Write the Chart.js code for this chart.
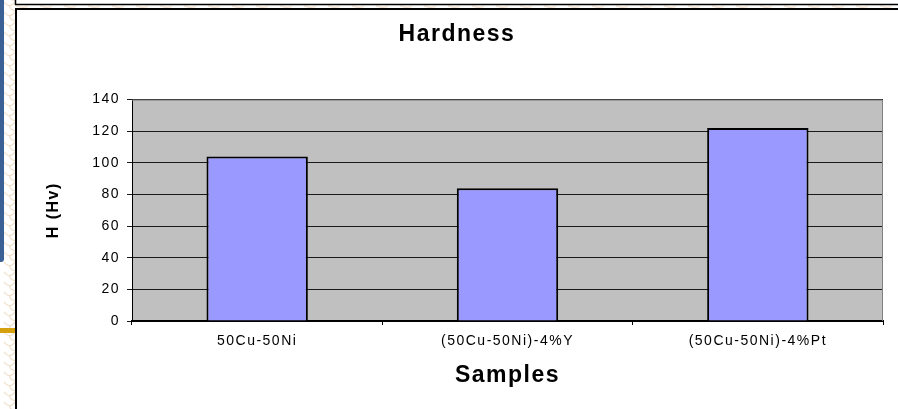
<!DOCTYPE html>
<html>
<head>
<meta charset="utf-8">
<script src="https://cdn.jsdelivr.net/npm/chart.js@4"></script>
<style>
  html, body { margin: 0; padding: 0; background: #fff; overflow: hidden; }
  #wrap { width: 898px; height: 409px; position: relative; }
</style>
</head>
<body>
<div id="wrap"><canvas id="c" width="898" height="409"></canvas></div>
<script>
// Samples and measured Vickers hardness
const categories = ['50Cu-50Ni', '(50Cu-50Ni)-4%Y', '(50Cu-50Ni)-4%Pt'];
const hardness = [104, 84, 122];

// Value axis range
const yMin = 0;
const yMax = 140;
const yStep = 20;

const FONT = "'Liberation Sans', Arial, sans-serif";
const SPACING = '1.5px';

// Slide-style frame around the chart card: blue tab, beige scalloped margin, gold marker
function drawFrame(ctx, w, h) {
  ctx.save();
  ctx.fillStyle = '#ffffff';
  ctx.fillRect(0, 0, w, h);

  // beige scallop margin (left column and thin top strip)
  ctx.strokeStyle = '#f0dfca';
  ctx.lineWidth = 1.2;
  for (let y = -10; y < h + 10; y += 10) {
    ctx.beginPath();
    ctx.arc(9.5, y, 5.5, 0.1 * Math.PI, 0.9 * Math.PI);
    ctx.stroke();
    ctx.beginPath();
    ctx.arc(15, y + 5, 5.5, 0.5 * Math.PI, 0.95 * Math.PI);
    ctx.stroke();
  }
  for (let x = 16; x < w + 10; x += 24) {
    ctx.beginPath();
    ctx.moveTo(x, 5.5);
    ctx.quadraticCurveTo(x + 6, 8.5, x + 12, 6.5);
    ctx.stroke();
  }

  // blue tab
  ctx.fillStyle = '#3a6096';
  ctx.beginPath();
  ctx.moveTo(0, 0);
  ctx.lineTo(4, 0);
  ctx.lineTo(4, 259);
  ctx.quadraticCurveTo(4, 262, 1, 262);
  ctx.lineTo(0, 262);
  ctx.closePath();
  ctx.fill();

  // gold marker
  ctx.fillStyle = '#d4a00e';
  ctx.fillRect(0, 328, 15, 5);

  // card outlines
  ctx.strokeStyle = '#000';
  ctx.lineWidth = 1.5;
  ctx.beginPath();
  ctx.moveTo(15.5, 0); ctx.lineTo(15.5, 4.5); ctx.lineTo(w, 4.5);
  ctx.stroke();
  ctx.lineWidth = 2;
  ctx.beginPath();
  ctx.moveTo(16, h); ctx.lineTo(16, 9); ctx.lineTo(w, 9);
  ctx.stroke();
  ctx.restore();
}

const cardPlugin = {
  id: 'card',
  beforeLayout(chart) {
    chart.ctx.letterSpacing = SPACING;
  },
  beforeDraw(chart) {
    const ctx = chart.ctx;
    ctx.letterSpacing = SPACING;
    drawFrame(ctx, chart.width, chart.height);
    const a = chart.chartArea;
    ctx.save();
    ctx.fillStyle = '#c0c0c0';
    ctx.fillRect(a.left, a.top, a.right - a.left, a.bottom - a.top);
    ctx.restore();
  },
  beforeDatasetsDraw(chart) {
    // grey plot-area edge on top and right
    const ctx = chart.ctx;
    const a = chart.chartArea;
    ctx.save();
    ctx.strokeStyle = '#808080';
    ctx.lineWidth = 1;
    ctx.beginPath();
    ctx.moveTo(a.left, a.top + 0.5);
    ctx.lineTo(a.right - 0.5, a.top + 0.5);
    ctx.lineTo(a.right - 0.5, a.bottom);
    ctx.stroke();
    ctx.restore();
  }
};

new Chart(document.getElementById('c'), {
  type: 'bar',
  data: {
    labels: categories,
    datasets: [{
      label: 'H (Hv)',
      data: hardness,
      backgroundColor: '#9999ff',
      borderColor: '#000000',
      borderWidth: 2,
      barPercentage: 0.405,
      categoryPercentage: 1.0
    }]
  },
  options: {
    responsive: false,
    animation: false,
    layout: { padding: { top: 9, left: 16, right: 0, bottom: 0 } },
    plugins: {
      legend: { display: false },
      tooltip: { enabled: false },
      title: {
        display: true,
        text: 'Hardness',
        color: '#000',
        font: { family: FONT, size: 23, weight: 'bold' },
        padding: { top: 12, bottom: 51 }
      }
    },
    scales: {
      x: {
        type: 'category',
        offset: true,
        grid: { offset: true, drawOnChartArea: false, color: '#000', tickLength: 4, lineWidth: 1 },
        border: { color: '#000', width: 2 },
        ticks: { color: '#000', font: { family: FONT, size: 14 }, padding: 8, maxRotation: 0, autoSkip: false },
        title: {
          display: true,
          text: 'Samples',
          color: '#000',
          font: { family: FONT, size: 23, weight: 'bold' },
          padding: { top: 0, bottom: 20 }
        },
        afterFit(scale) { scale.height = 88; }
      },
      y: {
        type: 'linear',
        position: 'left',
        min: yMin,
        max: yMax,
        ticks: { stepSize: yStep, color: '#000', font: { family: FONT, size: 14 }, padding: 7 },
        grid: { color: '#1a1a1a', tickLength: 5, lineWidth: 1 },
        border: { color: '#000', width: 1 },
        title: {
          display: true,
          text: 'H (Hv)',
          color: '#000',
          font: { family: FONT, size: 16, weight: 'bold' },
          padding: { top: 28, bottom: 0 }
        },
        afterFit(scale) { scale.width = 116; }
      },
      yRight: {
        type: 'linear',
        position: 'right',
        grid: { display: false },
        border: { display: false },
        ticks: { display: false },
        afterFit(scale) { scale.width = 15; }
      }
    }
  },
  plugins: [cardPlugin]
});
</script>
</body>
</html>
